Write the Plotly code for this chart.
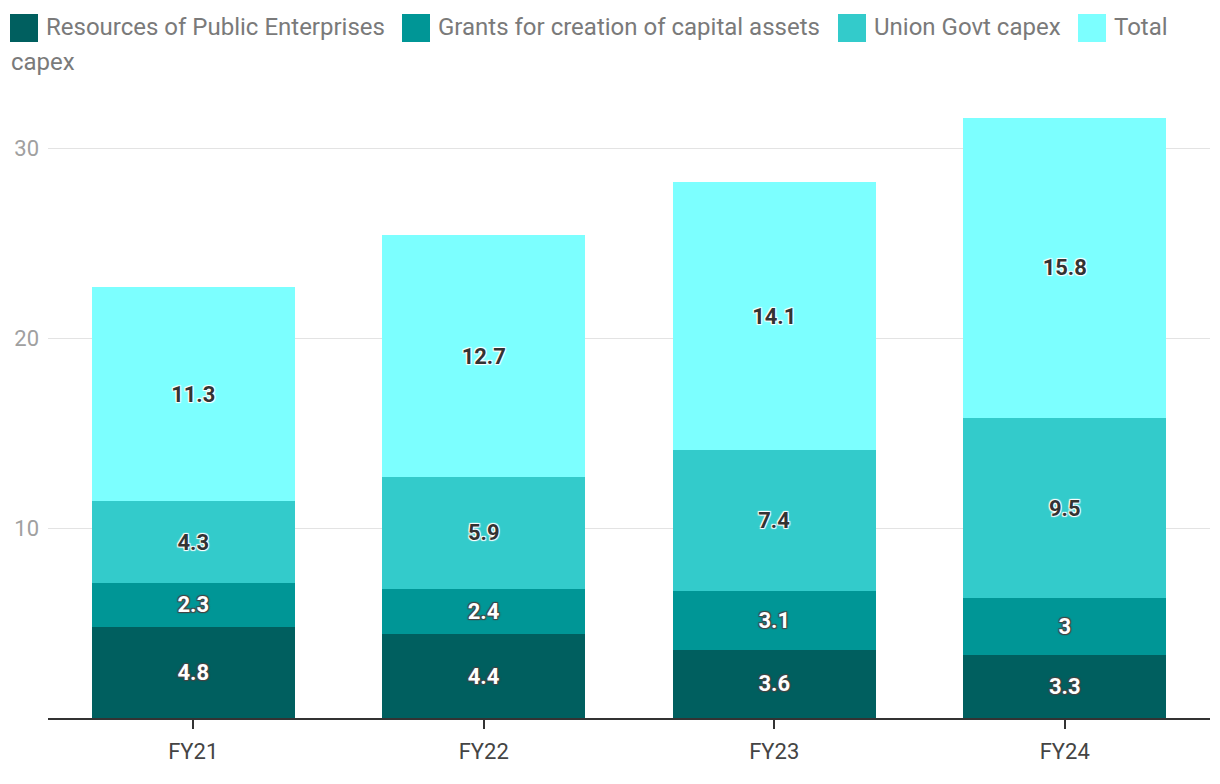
import plotly.graph_objects as go

categories = ["FY21", "FY22", "FY23", "FY24"]
resources_pe = [4.8, 4.4, 3.6, 3.3]
grants_capital = [2.3, 2.4, 3.1, 3.0]
union_capex = [4.3, 5.9, 7.4, 9.5]
total_capex = [11.3, 12.7, 14.1, 15.8]
y_ticks = [10, 20, 30]

series_names = ["Resources of Public Enterprises", "Grants for creation of capital assets",
                "Union Govt capex", "Total capex"]
series_values = [resources_pe, grants_capital, union_capex, total_capex]
series_colors = ["#005f5f", "#009696", "#33cbcb", "#7cffff"]
text_colors = ["white", "white", "#333333", "#333333"]

# page body has an 8px margin, so the figure is sized/offset to compensate
OFF = 8
W, H = 1220 - OFF, 784 - OFF
L, R, T, B = 40, 10, 102, 66
plot_w = W - L - R
plot_h = H - T - B


def px(x):  # screen px -> paper x
    return (x - OFF - L) / plot_w


def py(y):  # screen px -> paper y
    return (H - B - (y - OFF)) / plot_h


fig = go.Figure()
for name, vals, color, tcolor in zip(series_names, series_values, series_colors, text_colors):
    fig.add_trace(go.Bar(
        x=categories, y=vals, name=name, showlegend=False,
        marker=dict(color=color, line=dict(width=0)),
        text=[f"{v:g}" for v in vals],
        textposition="inside", insidetextanchor="middle",
        textangle=0,
        textfont=dict(family="Roboto", size=22, color=tcolor, weight="bold",
                      shadow="auto"),
        hoverinfo="x+y+name",
    ))

# legend drawn as swatches + labels (wrapping like the reference)
legend_swatch_x = [10, 402, 838, 1078]
legend_labels = ["Resources of Public Enterprises", "Grants for creation of capital assets",
                 "Union Govt capex", "Total"]
shapes = []
annotations = []
for sx, lab, col in zip(legend_swatch_x, legend_labels, series_colors):
    shapes.append(dict(type="rect", xref="paper", yref="paper",
                       x0=px(sx), x1=px(sx + 28), y0=py(42), y1=py(14),
                       fillcolor=col, line=dict(width=0), layer="above"))
    annotations.append(dict(text=lab, xref="paper", yref="paper",
                            x=px(sx + 34), y=py(27), xanchor="left", yanchor="middle",
                            showarrow=False, font=dict(size=24, color="#7a7a7a")))
annotations.append(dict(text="capex", xref="paper", yref="paper",
                        x=px(9), y=py(62), xanchor="left", yanchor="middle",
                        showarrow=False, font=dict(size=24, color="#7a7a7a")))

fig.update_layout(
    width=W, height=H,
    barmode="stack", bargap=0.3,
    plot_bgcolor="white", paper_bgcolor="white",
    margin=dict(l=L, r=R, t=T, b=B, autoexpand=False),
    font=dict(family="Roboto", color="#757575"),
    showlegend=False,
    xaxis=dict(
        showgrid=False, showline=True, linecolor="#333333", linewidth=2,
        ticks="outside", ticklen=9, tickwidth=2, tickcolor="#333333",
        tickfont=dict(size=22, color="#444444"), ticklabelstandoff=4,
        automargin=False,
    ),
    yaxis=dict(
        range=[0, 32], tickvals=y_ticks, showgrid=True, gridcolor="#e3e3e3",
        gridwidth=1, zeroline=False, showline=False,
        tickfont=dict(size=22, color="#a0a0a0"), ticklabelstandoff=8,
        automargin=False,
    ),
    shapes=shapes,
    annotations=annotations,
)

fig.write_html("out.html")
